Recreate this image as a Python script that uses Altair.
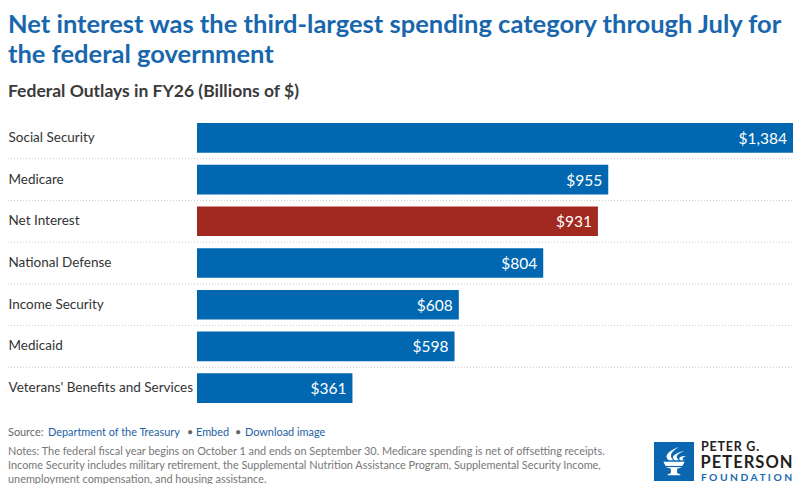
import altair as alt
import pandas as pd

categories = [
    "Social Security",
    "Medicare",
    "Net Interest",
    "National Defense",
    "Income Security",
    "Medicaid",
    "Veterans' Benefits and Services",
]
values = [1384, 955, 931, 804, 608, 598, 361]
value_labels = ["$1,384", "$955", "$931", "$804", "$608", "$598", "$361"]
highlight = ["other", "other", "net interest", "other", "other", "other", "other"]
separator_rows = categories[:-1]

title_lines = [
    "Net interest was the third-largest spending category through July for",
    "the federal government",
]
subtitle = "Federal Outlays in FY26 (Billions of $)"
notes_lines = [
    "Notes: The federal fiscal year begins on October 1 and ends on September 30. Medicare spending is net of offsetting receipts.",
    "Income Security includes military retirement, the Supplemental Nutrition Assistance Program, Supplemental Security Income,",
    "unemployment compensation, and housing assistance.",
]

df = pd.DataFrame({
    "category": categories,
    "value": values,
    "label": value_labels,
    "group": highlight,
})
sep_df = pd.DataFrame({"category": separator_rows})

BODY = "Lato, sans-serif"
BLUE = "#0067b0"
RED = "#a1291f"
TITLE_BLUE = "#1866ad"
LINK = "#1d62a6"
LEFT = -189

y_enc = alt.Y(
    "category:N",
    sort=categories,
    scale=alt.Scale(paddingInner=0, paddingOuter=0),
    axis=alt.Axis(
        title=None, labelAlign="left", labelPadding=189, ticks=False,
        domain=False, grid=False, labelFont=BODY, labelFontSize=13.5,
        labelColor="#333333", labelLimit=300,
    ),
)
x_enc = alt.X("value:Q", scale=alt.Scale(domain=[0, 1384], nice=False, zero=True), axis=None)

base = alt.Chart(df)

bars = base.mark_bar(height={"band": 0.71}).encode(
    x=x_enc,
    y=y_enc,
    color=alt.Color("group:N", scale=alt.Scale(domain=["other", "net interest"], range=[BLUE, RED]), legend=None),
)

labels = base.mark_text(align="right", baseline="middle", dx=-6, dy=1, color="white", font=BODY, fontSize=15.5).encode(
    x=x_enc, y=alt.Y("category:N", sort=categories), text="label:N"
)

seps = alt.Chart(sep_df).mark_rule(color="#c9c9c9", strokeDash=[1, 2], strokeWidth=1).encode(
    y=alt.Y("category:N", sort=categories, bandPosition=1),
    x=alt.value(LEFT),
    x2=alt.value(596),
)


def txt(text, x, y, **kw):
    props = dict(text=text, align="left", baseline="alphabetic")
    props.update(kw)
    return alt.Chart(alt.Data(values=[{}])).mark_text(**props).encode(
        x=alt.value(x), y=alt.value(y)
    )


def spaced(word, sep):
    return sep.join(list(word))


layers = [seps, bars, labels]
# titles
layers.append(txt(title_lines[0], LEFT, -84, font=BODY, fontSize=25.5, fontWeight="bold", color=TITLE_BLUE))
layers.append(txt(title_lines[1], LEFT, -54, font=BODY, fontSize=25.5, fontWeight="bold", color=TITLE_BLUE))
layers.append(txt(subtitle, LEFT, -20, font=BODY, fontSize=17.5, fontWeight="bold", color="#3a3a3a"))
# source line
FS = 10.9
layers.append(txt("Source:", LEFT, 319, font=BODY, fontSize=FS, color="#666666"))
layers.append(txt("Department of the Treasury", -149, 319, font=BODY, fontSize=FS, color=LINK))
layers.append(txt("\u2022", -10, 319, font=BODY, fontSize=FS, color="#666666"))
layers.append(txt("Embed", -1, 319, font=BODY, fontSize=FS, color=LINK))
layers.append(txt("\u2022", 38, 319, font=BODY, fontSize=FS, color="#666666"))
layers.append(txt("Download image", 48, 319, font=BODY, fontSize=FS, color=LINK))
for i, line in enumerate(notes_lines):
    layers.append(txt(line, LEFT, 338 + 14 * i, font=BODY, fontSize=FS, color="#777777"))

# logo
logo_box = alt.Chart(alt.Data(values=[{}])).mark_rect(color="#0b67b2").encode(
    x=alt.value(457), x2=alt.value(497), y=alt.value(325), y2=alt.value(364)
)
torch_path = (
    "M -0.75 0.05 L 0.75 0.05 L 0.55 0.45 L 0.22 0.55 L 0.22 0.85 L 0.45 0.95 L 0.45 1 "
    "L -0.45 1 L -0.45 0.95 L -0.22 0.85 L -0.22 0.55 L -0.55 0.45 Z "
    "M -0.35 -0.05 C -0.8 -0.35 -0.3 -0.75 0.35 -1 C -0.05 -0.7 -0.45 -0.45 -0.05 -0.05 Z "
    "M 0.05 -0.05 C -0.3 -0.3 0.1 -0.55 0.7 -0.7 C 0.3 -0.5 0 -0.35 0.35 -0.05 Z "
    "M 0.45 -0.05 C 0.25 -0.2 0.45 -0.35 0.85 -0.35 C 0.6 -0.25 0.55 -0.15 0.7 -0.05 Z"
)
torch = alt.Chart(alt.Data(values=[{}])).mark_point(
    shape=torch_path, filled=True, color="white", opacity=1, size=800, strokeWidth=0
).encode(x=alt.value(477), y=alt.value(344))
bowl_stripes = alt.Chart(alt.Data(values=[{}])).mark_rule(color="#0b67b2", strokeWidth=1.2).encode(
    x=alt.value(468), x2=alt.value(486), y=alt.value(349.5)
)
layers += [logo_box, torch, bowl_stripes]
layers.append(txt(spaced("PETER G.", "\u200a"), 504, 333.5, font=BODY, fontSize=12.5, fontWeight="bold", color="#231f20"))
layers.append(txt(spaced("PETERSON", "\u200a"), 503.5, 351, font=BODY, fontSize=16.5, fontWeight="bold", color="#231f20"))
layers.append(txt(spaced("FOUNDATION", " "), 504, 363.7, font=BODY, fontSize=10.3, fontWeight="bold", color="#1a6ab3"))

chart = alt.layer(*layers).properties(
    width=596,
    height=292,
    autosize=alt.AutoSizeParams(type="none"),
    padding={"left": 189, "top": 109, "right": 1, "bottom": 75},
).configure_view(stroke=None)

chart.save("out.html", embed_options={"renderer": "svg", "actions": False})
